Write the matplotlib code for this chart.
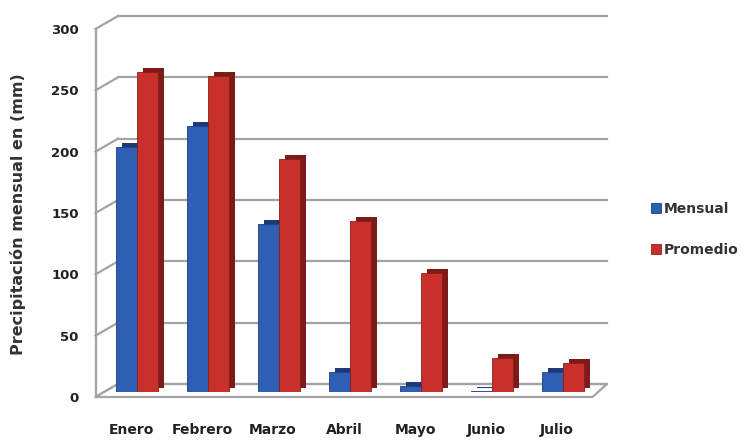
import numpy as np
import matplotlib
matplotlib.use("Agg")
import matplotlib.pyplot as plt
from matplotlib.lines import Line2D
from matplotlib.patches import Polygon
from matplotlib.transforms import offset_copy

meses = ["Enero", "Febrero", "Marzo", "Abril", "Mayo", "Junio", "Julio"]
mensual = [200, 217, 137, 16, 5, 1, 16]
promedio = [261, 258, 190, 139, 97, 28, 24]
ticks_y = [0, 50, 100, 150, 200, 250, 300]

azul, azul_osc = "#2f5fb5", "#1c3a7a"
rojo, rojo_osc = "#c8302b", "#7c1b17"
gris = "#a3a3a3"

W, H = 750, 444
fig = plt.figure(figsize=(W / 100, H / 100), dpi=100)


def px_axes(left, top, right, bottom):
    # axes placed by pixel edges (origin top-left)
    return fig.add_axes([left / W, 1 - bottom / H, (right - left) / W, (bottom - top) / H])


# back wall, front plane and the bars in between (fake 3D)
back = px_axes(118, 16, 607, 384)
front = px_axes(95.5, 29, 592.5, 397)
bars = px_axes(101.5, 24, 598.5, 392)

for ax in (back, front, bars):
    ax.set_ylim(0, 300)
    ax.set_facecolor("none")
front.set_xlim(-0.5, 6.5)
bars.set_xlim(-0.5, 6.5)

back.axis("off")
for v in ticks_y:
    back.axhline(v, color=gris, lw=1.6, clip_on=False)

for s in ("top", "right", "bottom"):
    front.spines[s].set_visible(False)
front.spines["left"].set_color(gris)
front.spines["left"].set_linewidth(1.6)
front.set_yticks(ticks_y)
front.set_yticklabels([str(v) for v in ticks_y], fontsize=9.5, fontweight="bold", color="#222222")
front.set_xticks(range(len(meses)))
front.set_xticklabels(meses, fontsize=10, fontweight="bold", color="#222222")
front.tick_params(axis="y", length=0, pad=12)
front.tick_params(axis="x", length=0, pad=19)

# diagonals joining the front axis with the back wall, and the floor
to_fig = fig.transFigure.inverted()
def fpt(ax, x, y):
    return to_fig.transform(ax.transData.transform((x, y)))

bx0, bx1 = back.get_xlim()
for v in ticks_y:
    p0 = fpt(front, -0.5, v)
    p1 = fpt(back, bx0, v)
    fig.add_artist(Line2D([p0[0], p1[0]], [p0[1], p1[1]], color=gris, lw=1.6, zorder=-1))

suelo = [fpt(front, -0.5, 0), fpt(front, 6.5, 0), fpt(back, bx1, 0), fpt(back, bx0, 0)]
fig.add_artist(Polygon(suelo, closed=True, facecolor="white", edgecolor=gris, lw=1.6, zorder=-1))

# bars: darker copy shifted up/right gives the side and top faces
x = np.arange(len(meses))
w = 0.3
lado = offset_copy(bars.transData, fig=fig, x=6, y=4, units="dots")
bars.bar(x + w / 2, promedio, w, color=rojo_osc, transform=lado, clip_on=False)
bars.bar(x - w / 2, mensual, w, color=azul_osc, transform=lado, clip_on=False)
b1 = bars.bar(x - w / 2, mensual, w, color=azul, edgecolor="#1d3f80", lw=0.6)
b2 = bars.bar(x + w / 2, promedio, w, color=rojo, edgecolor="#8a1f1a", lw=0.6)
bars.axis("off")

fig.text(18 / W, 1 - 214 / H, "Precipitación mensual en (mm)", rotation=90,
         ha="center", va="center", fontsize=11.5, fontweight="bold", color="#333333")

fig.legend([b1, b2], ["Mensual", "Promedio"], loc="upper left",
           bbox_to_anchor=(651 / W, 1 - 202 / H), frameon=False, borderpad=0,
           borderaxespad=0, handlelength=0.7, handleheight=0.7, handletextpad=0.25,
           labelspacing=1.95, prop={"size": 10, "weight": "bold"}, labelcolor="#333333")

fig.savefig("out.png", dpi=100)
